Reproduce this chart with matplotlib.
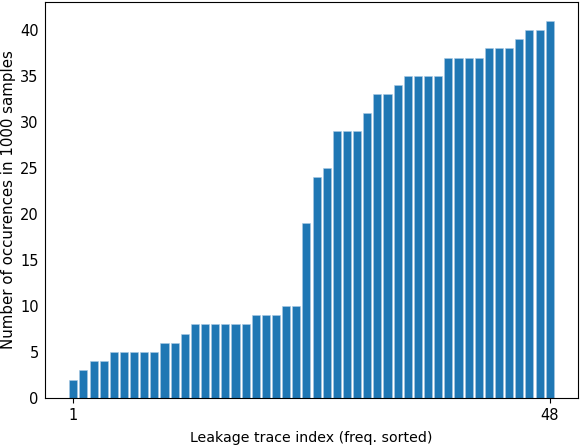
import matplotlib
matplotlib.use('Agg')
import matplotlib.pyplot as plt
import numpy as np

# occurrences per leakage trace, sorted by frequency
counts = [2, 3, 4, 4, 5, 5, 5, 5, 5, 6, 6, 7, 8, 8, 8, 8, 8, 8, 9, 9, 9, 10, 10,
          19, 24, 25, 29, 29, 29, 31, 33, 33, 34, 35, 35, 35, 35, 37, 37, 37, 37,
          38, 38, 38, 39, 40, 40, 41]
idx = np.arange(1, len(counts) + 1)
xticks = [1, 48]

fig = plt.figure(figsize=(5.81, 4.45), dpi=100)
ax = fig.add_subplot(111)
ax.bar(idx, counts, color='#1f77b4', edgecolor='#a9c9e3', linewidth=0.4)
ax.set_xticks(xticks)
ax.tick_params(axis='y', length=0, pad=4.5)
ax.tick_params(axis='both', labelsize=10.5)
ax.set_xlabel('Leakage trace index (freq. sorted)', fontsize=10.2, labelpad=6)
ax.set_ylabel('Number of occurences in 1000 samples', fontsize=10.8)
ax.yaxis.set_label_coords(-0.055, 0.5)
fig.subplots_adjust(left=45 / 581, right=578 / 581, bottom=1 - 398 / 445, top=1 - 2 / 445)
fig.savefig('out.png', dpi=100)
